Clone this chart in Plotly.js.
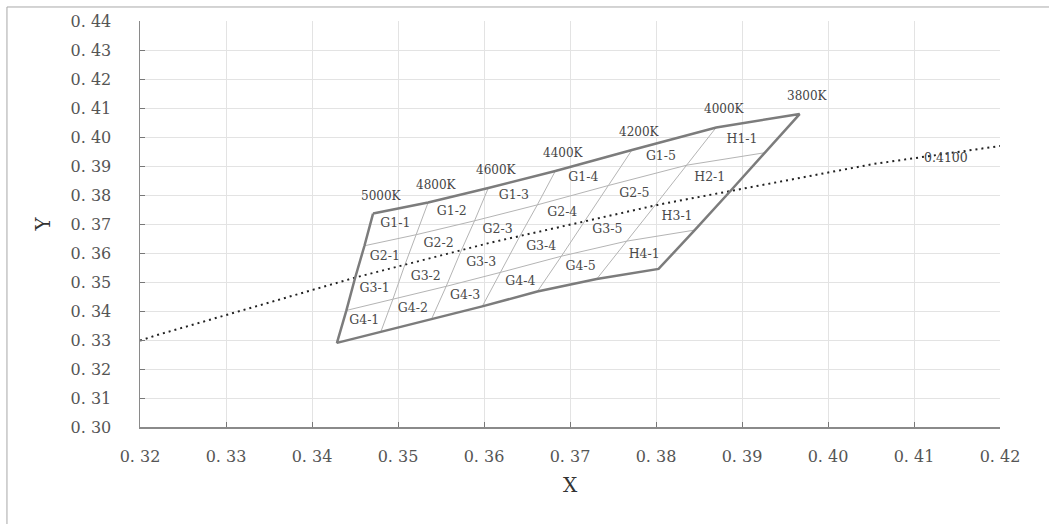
<!DOCTYPE html>
<html><head><meta charset="utf-8">
<script src="https://cdn.plot.ly/plotly-3.0.1.min.js"></script>
<style>html,body{margin:0;padding:0;background:#fff}#chart{width:1049px;height:524px}</style>
</head><body><div id="chart"></div>
<script>
// ---- data ----
const cctLabels = ["5000K","4800K","4600K","4400K","4200K","4000K","3800K"];
// grid nodes: top edge (CCT points), row boundaries, bottom edge
const topX  = [0.3471,0.3535,0.3605,0.3683,0.3772,0.3870,0.3967];
const topY  = [0.3736,0.3774,0.3824,0.3883,0.3955,0.4033,0.4079];
const row1X = [0.3461,0.3521,0.3589,0.3662,0.3745,0.3836,0.3927];
const row1Y = [0.3625,0.3663,0.3711,0.3766,0.3833,0.3903,0.3946];
const row2X = [0.3450,0.3507,0.3572,0.3640,0.3717,0.3801,0.3886];
const row2Y = [0.3513,0.3551,0.3598,0.3649,0.3711,0.3772,0.3812];
const row3X = [0.3440,0.3494,0.3556,0.3619,0.3690,0.3766,0.3845];
const row3Y = [0.3402,0.3440,0.3485,0.3533,0.3589,0.3641,0.3679];
const botX  = [0.3429,0.3480,0.3539,0.3598,0.3662,0.3731,0.3803];
const botY  = [0.3290,0.3328,0.3372,0.3416,0.3467,0.3510,0.3545];
const cellLabels = [
  ["G1-1","G1-2","G1-3","G1-4","G1-5","H1-1"],
  ["G2-1","G2-2","G2-3","G2-4","G2-5","H2-1"],
  ["G3-1","G3-2","G3-3","G3-4","G3-5","H3-1"],
  ["G4-1","G4-2","G4-3","G4-4","G4-5","H4-1"]
];
// black-body locus (dotted)
const locusX = [0.3200,0.3221,0.3451,0.3608,0.3805,0.4053,0.4200];
const locusY = [0.3298,0.3318,0.3516,0.3636,0.3768,0.3907,0.3969];
const locusLabel = "0.4100";
const locusLabelX = 0.4137, locusLabelY = 0.3931;
// axis ticks
const xTickVals = [0.32,0.33,0.34,0.35,0.36,0.37,0.38,0.39,0.40,0.41,0.42];
const xTickText = ["0. 32","0. 33","0. 34","0. 35","0. 36","0. 37","0. 38","0. 39","0. 40","0. 41","0. 42"];
const yTickVals = [0.30,0.31,0.32,0.33,0.34,0.35,0.36,0.37,0.38,0.39,0.40,0.41,0.42,0.43,0.44];
const yTickText = ["0. 30","0. 31","0. 32","0. 33","0. 34","0. 35","0. 36","0. 37","0. 38","0. 39","0. 40","0. 41","0. 42","0. 43","0. 44"];

// ---- build traces ----
const rowsX = [topX,row1X,row2X,row3X,botX];
const rowsY = [topY,row1Y,row2Y,row3Y,botY];
const serif = "DejaVu Serif, Liberation Serif, serif";

// inner grid lines
const gx = [], gy = [];
[1,3].forEach(r => { gx.push(...rowsX[r], null); gy.push(...rowsY[r], null); });
for (let c = 1; c <= 5; c++) {
  for (let r = 0; r < 5; r++) { gx.push(rowsX[r][c]); gy.push(rowsY[r][c]); }
  gx.push(null); gy.push(null);
}
// outer boundary
const n = topX.length - 1;
const bx = [...topX], by = [...topY];
for (let r = 1; r < 5; r++) { bx.push(rowsX[r][n]); by.push(rowsY[r][n]); }
for (let c = n - 1; c >= 0; c--) { bx.push(botX[c]); by.push(botY[c]); }
for (let r = 3; r >= 0; r--) { bx.push(rowsX[r][0]); by.push(rowsY[r][0]); }

// cell label positions = centre of each cell
const lx = [], ly = [], lt = [];
for (let r = 0; r < 4; r++) for (let c = 0; c < 6; c++) {
  lx.push((rowsX[r][c]+rowsX[r][c+1]+rowsX[r+1][c]+rowsX[r+1][c+1])/4);
  ly.push((rowsY[r][c]+rowsY[r][c+1]+rowsY[r+1][c]+rowsY[r+1][c+1])/4);
  lt.push(cellLabels[r][c]);
}

const traces = [
  {x: gx, y: gy, mode: "lines", line: {color: "#b4b4b4", width: 1}, hoverinfo: "skip"},
  {x: locusX, y: locusY, mode: "lines", line: {color: "#222", width: 2, dash: "2px,4px"}, hoverinfo: "skip"},
  {x: bx, y: by, mode: "lines", line: {color: "#7c7c7c", width: 2.5}, hoverinfo: "skip"},
  {x: lx, y: ly, mode: "text", text: lt, textposition: "middle center",
   textfont: {family: serif, size: 12.5, color: "#4a4a4a"}, hoverinfo: "skip"}
];

const annotations = cctLabels.map((t, i) => ({
  x: topX[i], y: topY[i], xref: "x", yref: "y", text: t, showarrow: false,
  xshift: 8, yshift: 18, font: {family: serif, size: 12, color: "#444"}
}));
annotations.push({x: locusLabelX, y: locusLabelY, xref: "x", yref: "y", text: locusLabel,
  showarrow: false, font: {family: serif, size: 12.5, color: "#444"}});

const axisCommon = {
  showgrid: true, gridcolor: "#e3e3e3", gridwidth: 1, zeroline: false,
  showline: true, linecolor: "#8a8a8a", linewidth: 1.5,
  ticks: "inside", ticklen: 5, tickcolor: "#777", tickwidth: 1,
  tickfont: {family: serif, size: 16, color: "#555"}, automargin: false, fixedrange: true
};

const layout = {
  width: 1049, height: 524,
  margin: {l: 140, r: 49, t: 21, b: 97, pad: 0},
  paper_bgcolor: "#fff", plot_bgcolor: "#fff",
  showlegend: false, hovermode: false,
  xaxis: Object.assign({}, axisCommon, {
    range: [0.32, 0.42], tickmode: "array", tickvals: xTickVals, ticktext: xTickText,
    ticklabelstandoff: 14,
    title: {text: "X", font: {family: serif, size: 20, color: "#333"}, standoff: 13}
  }),
  yaxis: Object.assign({}, axisCommon, {
    range: [0.30, 0.44], tickmode: "array", tickvals: yTickVals, ticktext: yTickText,
    ticklabelstandoff: 24,
    title: {text: "Y", font: {family: serif, size: 20, color: "#333"}, standoff: 14}
  }),
  annotations: annotations,
  shapes: [{type: "rect", xref: "paper", yref: "paper", x0: -0.1547, x1: 1.1, y0: -0.4, y1: 1.0345,
            line: {color: "#a8a8a8", width: 1}, fillcolor: "rgba(0,0,0,0)", layer: "below"}]
};

Plotly.newPlot("chart", traces, layout, {staticPlot: true, displayModeBar: false});
</script>
</body></html>
